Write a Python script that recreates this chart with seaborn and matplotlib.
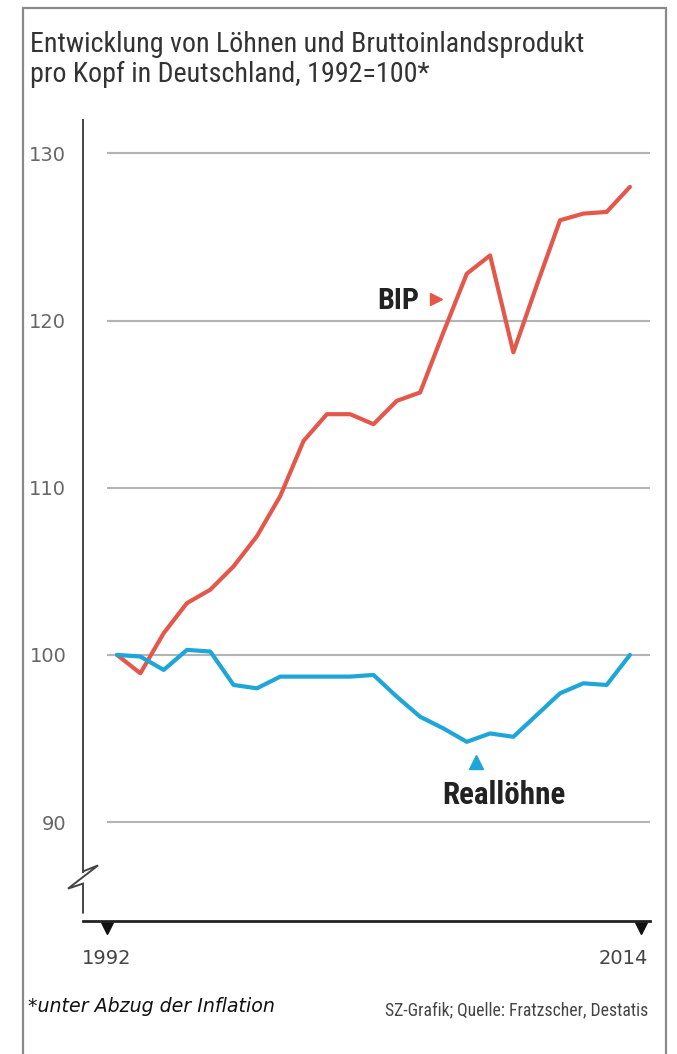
import numpy as np
import pandas as pd
import matplotlib
matplotlib.use("Agg")
import matplotlib.pyplot as plt
import seaborn as sns
from matplotlib.lines import Line2D
from matplotlib.patches import Rectangle
import matplotlib.transforms as mtransforms
from matplotlib import font_manager

# ---- data ----
years = list(range(1992, 2015))
bip = [100.0, 98.9, 101.3, 103.1, 103.9, 105.3, 107.1, 109.5, 112.8, 114.4,
       114.4, 113.8, 115.2, 115.7, 119.3, 122.8, 123.9, 118.1, 122.1, 126.0,
       126.4, 126.5, 128.0]
realloehne = [100.0, 99.9, 99.1, 100.3, 100.2, 98.2, 98.0, 98.7, 98.7, 98.7,
              98.7, 98.8, 97.5, 96.3, 95.6, 94.8, 95.3, 95.1, 96.4, 97.7,
              98.3, 98.2, 100.0]
yticks = [90, 100, 110, 120, 130]
title = "Entwicklung von Löhnen und Bruttoinlandsprodukt\npro Kopf in Deutschland, 1992=100*"
footnote = "*unter Abzug der Inflation"
source = "SZ-Grafik; Quelle: Fratzscher, Destatis"

df = pd.DataFrame({"Jahr": years * 2,
                   "Index": bip + realloehne,
                   "Reihe": ["BIP"] * len(years) + ["Reallöhne"] * len(years)})

RED = "#e4574b"
BLUE = "#1ea6d9"

sns.set_style("white")
plt.rcParams["font.family"] = ["DejaVu Sans"]

# look for a condensed / narrow family if one is installed
names = {f.name for f in font_manager.fontManager.ttflist}
narrow_fp = None
for cand in ["Liberation Sans Narrow", "Roboto Condensed", "Open Sans Condensed",
             "Noto Sans Condensed", "DejaVu Sans Condensed"]:
    if cand in names:
        narrow_fp = dict(family=[cand, "DejaVu Sans"])
        break
if narrow_fp is None:
    for f in font_manager.fontManager.ttflist:
        if f.name == "DejaVu Sans" and "condensed" in str(f.stretch):
            narrow_fp = dict(family=["DejaVu Sans"], fontstretch="condensed")
            break
if narrow_fp is None:
    narrow_fp = dict(family=["DejaVu Sans"])

W, H = 677, 1054
fig = plt.figure(figsize=(W / 100, H / 100), dpi=100)

ax_l, ax_r, ax_t, ax_b = 83, 650, 120, 921
ax = fig.add_axes([ax_l / W, 1 - ax_b / H, (ax_r - ax_l) / W, (ax_b - ax_t) / H])

sns.lineplot(data=df, x="Jahr", y="Index", hue="Reihe",
             palette={"BIP": RED, "Reallöhne": BLUE},
             linewidth=3.0, legend=False, ax=ax, zorder=3)

ax.set_xlim(1990.54, 2014.86)
ax.set_ylim(84.08, 132.0)

ax.hlines(yticks, years[0] - 0.43, ax.get_xlim()[1], colors="#b4b4b4",
          linewidth=1.5, zorder=1)

for s in ["top", "right"]:
    ax.spines[s].set_visible(False)
ax.spines["left"].set_color("#444444")
ax.spines["left"].set_linewidth(1.4)
ax.spines["left"].set_bounds(87.0, 132.0)
ax.spines["bottom"].set_color("#222222")
ax.spines["bottom"].set_linewidth(2.0)

zig = Line2D([0, 0.0265, -0.0265, 0, 0], [0.0619, 0.0694, 0.0404, 0.0467, 0.0101],
             transform=ax.transAxes, color="#444444", linewidth=1.4,
             clip_on=False, solid_joinstyle="miter")
ax.add_line(zig)

ax.set_yticks(yticks)
ax.set_yticklabels([str(v) for v in yticks])
ax.tick_params(axis="y", length=0, pad=12, labelsize=14, labelcolor="#666666")
ax.set_ylabel("")
ax.set_xlabel("")

tick_pos = np.linspace(years[0] - 0.43, years[-1] + 0.47, len(years))
ax.set_xticks([])
ax.set_xticks(tick_pos, minor=True)
ax.tick_params(axis="x", which="minor", direction="out", length=4, width=1.0,
               color="#666666")
trans = mtransforms.blended_transform_factory(ax.transData, ax.transAxes)
ax.plot([tick_pos[0], tick_pos[-1]], [-0.009, -0.009], linestyle="none",
        marker="v", markersize=9, color="#111111", transform=trans, clip_on=False)
ax.text(tick_pos[0], -0.047, str(years[0]), transform=trans, ha="center", va="center",
        fontsize=14, color="#444444")
ax.text(tick_pos[-1] + 0.3, -0.047, str(years[-1]), transform=trans, ha="right",
        va="center", fontsize=14, color="#444444")

# series labels
t_bip = ax.text(2004.05, 121.2, "BIP", ha="center", va="center", fontsize=16,
                fontweight="bold", color="#222222", **narrow_fp)
ax.plot([2005.7], [121.3], marker=">", markersize=9, color=RED, linestyle="none")
t_rl = ax.text(2008.6, 91.6, "Reallöhne", ha="center", va="center", fontsize=16,
               fontweight="bold", color="#222222", **narrow_fp)
ax.plot([2007.4], [93.6], marker="^", markersize=10, color=BLUE, linestyle="none")

# title and notes
t_title = fig.text(30 / W, 1 - 31 / H, title, ha="left", va="top", fontsize=18,
                   color="#333333", linespacing=1.15, **narrow_fp)
t_foot = fig.text(28 / W, 1 - 1006 / H, footnote, ha="left", va="center", fontsize=12,
                  style="italic", color="#111111")
t_src = fig.text(648 / W, 1 - 1010 / H, source, ha="right", va="center", fontsize=9,
                 color="#444444", **narrow_fp)

# fit text widths to the reference widths (pixels)
fig.canvas.draw()
r = fig.canvas.get_renderer()
for txt, target in [(t_title, 553), (t_bip, 42), (t_rl, 123), (t_foot, 246), (t_src, 262)]:
    w = txt.get_window_extent(renderer=r).width
    txt.set_fontsize(txt.get_fontsize() * target / w)

# frame
fig.patches.append(Rectangle((23 / W, -0.05), (666 - 23) / W, 1.05 - 8 / H,
                             transform=fig.transFigure, fill=False,
                             edgecolor="#8a8a8a", linewidth=1.6))

fig.savefig("out.png", dpi=100)
